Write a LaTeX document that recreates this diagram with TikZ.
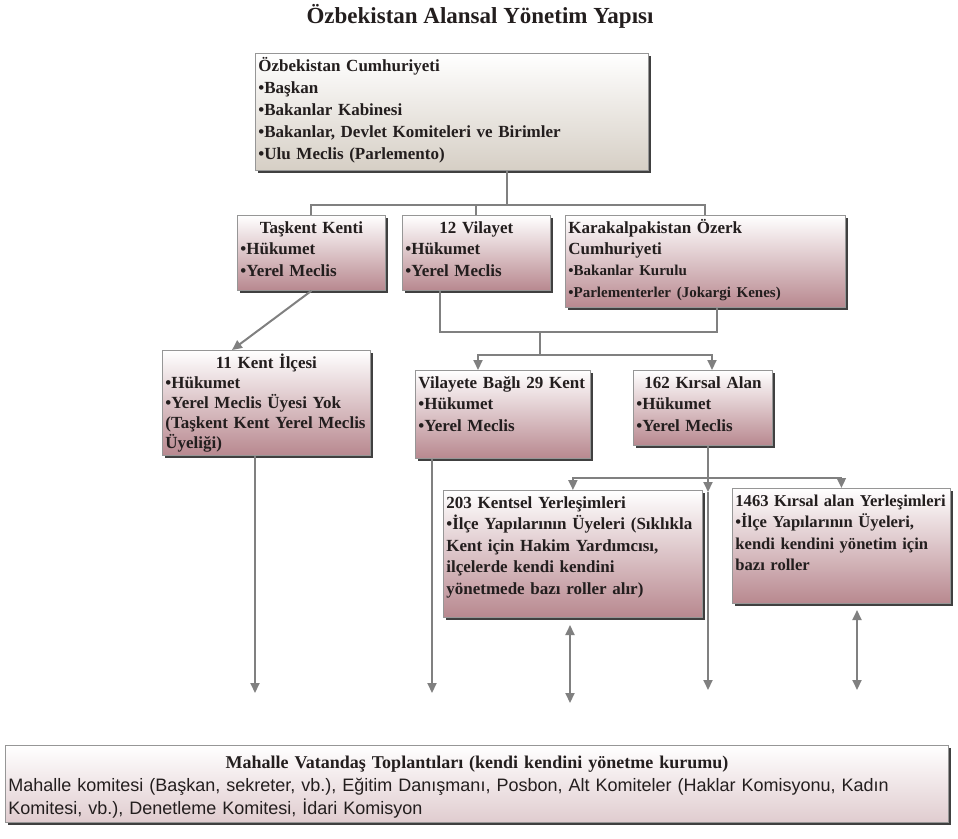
\documentclass[tikz,border=0pt]{standalone}
\usepackage{fontspec}
\setmainfont{Liberation Serif}
\newfontfamily\bodysans{Liberation Sans}
\usetikzlibrary{arrows.meta,shadows}

\definecolor{rosebot}{RGB}{184,136,143}
\definecolor{beigebot}{RGB}{214,207,197}
\definecolor{palerose}{RGB}{224,204,207}
\definecolor{boxline}{RGB}{150,150,150}
\definecolor{linkgray}{RGB}{128,128,128}
\definecolor{inkdark}{RGB}{35,30,30}

\newcommand\boxhead[1]{\makebox[\linewidth]{#1}}

\tikzset{
  orgbox/.style={draw=boxline, line width=0.8pt, anchor=north west, align=left,
    top color=white, bottom color=rosebot, inner xsep=3pt, inner ysep=4pt,
    text height=14pt, text=inkdark, font=\fontsize{17}{21.5}\selectfont\bfseries,
    drop shadow={shadow xshift=3pt, shadow yshift=-3pt, fill=black!75, opacity=1}},
  tie/.style={draw=linkgray, line width=2pt},
  arr/.style={tie, -{Triangle[width=9pt,length=10pt]}},
  dblarr/.style={tie, {Triangle[width=9pt,length=10pt]}-{Triangle[width=9pt,length=10pt]}}
}

\begin{document}
\begin{tikzpicture}[x=1pt,y=-1pt]
  \useasboundingbox (0,0) rectangle (958,838);

  \node[text=inkdark, font=\fontsize{23}{26}\selectfont\bfseries] (title) at (480,16)
    {Özbekistan Alansal Yönetim Yapısı};

  % level 1
  \node[orgbox, bottom color=beigebot, text width=387pt, text depth=95pt,
    font=\fontsize{17}{22}\selectfont\bfseries] (top) at (255,53)
    {Özbekistan Cumhuriyeti\\ •Başkan\\ •Bakanlar Kabinesi\\
     •Bakanlar, Devlet Komiteleri ve Birimler\\ •Ulu Meclis (Parlemento)};

  % level 2
  \node[orgbox, text width=142pt, text depth=53pt] (taskent) at (237,215)
    {\boxhead{Taşkent Kenti}\\ •Hükumet\\ •Yerel Meclis};
  \node[orgbox, text width=142pt, text depth=53pt] (vilayet) at (402,215)
    {\boxhead{12 Vilayet}\\ •Hükumet\\ •Yerel Meclis};
  \node[orgbox, text width=274pt, text depth=70pt] (karakalpak) at (565,215)
    {Karakalpakistan Özerk\\ Cumhuriyeti\\
     {\fontsize{15}{21}\selectfont •Bakanlar Kurulu\\ •Parlementerler (Jokargi Kenes)}};

  % level 3
  \node[orgbox, text width=202pt, text depth=83pt,
    font=\fontsize{17}{20}\selectfont\bfseries] (kent11) at (162,350)
    {\boxhead{11 Kent İlçesi}\\ •Hükumet\\ •Yerel Meclis Üyesi Yok\\
     (Taşkent Kent Yerel Meclis\\ Üyeliği)};
  \node[orgbox, text width=169pt, text depth=66pt] (kent29) at (415,370)
    {Vilayete Bağlı 29 Kent\\ •Hükumet\\ •Yerel Meclis};
  \node[orgbox, text width=133pt, text depth=53pt] (kirsal) at (633,370)
    {\boxhead{162 Kırsal Alan}\\ •Hükumet\\ •Yerel Meclis};

  % level 4
  \node[orgbox, text width=253pt, text depth=105pt] (kentsel) at (443,490)
    {203 Kentsel Yerleşimleri\\ •İlçe Yapılarının Üyeleri (Sıklıkla\\
     Kent için Hakim Yardımcısı,\\ ilçelerde kendi kendini\\
     yönetmede bazı roller alır)};
  \node[orgbox, text width=212pt, text depth=93pt,
    font=\fontsize{16.6}{21.5}\selectfont\bfseries] (kirsalyer) at (732,488)
    {1463 Kırsal alan Yerleşimleri\\ •İlçe Yapılarının Üyeleri,\\
     kendi kendini yönetim için\\ bazı roller};

  % mahalle
  \node[orgbox, bottom color=palerose, text width=937pt, text height=19pt, text depth=50pt,
    font=\fontsize{18}{23}\selectfont\bfseries] (mahalle) at (5,745)
    {\boxhead{Mahalle Vatandaş Toplantıları (kendi kendini yönetme kurumu)}\\
     {\bodysans\mdseries\fontsize{18}{23}\selectfont Mahalle komitesi (Başkan, sekreter, vb.), Eğitim Danışmanı, Posbon, Alt Komiteler (Haklar Komisyonu, Kadın\\
     Komitesi, vb.), Denetleme Komitesi, İdari Komisyon}};

  \coordinate (hub1) at (507,205);
  \coordinate (hub2) at (540,332);
  \coordinate (hub3) at (540,355);
  \coordinate (hub4) at (708,478);
  \coordinate (mid3) at (708,492);
  \coordinate (end1) at (255,693);
  \coordinate (end2) at (432,693);
  \coordinate (end3) at (708,690);
  \coordinate (dbl1a) at (570,625);
  \coordinate (dbl1b) at (570,703);
  \coordinate (dbl2a) at (857,610);
  \coordinate (dbl2b) at (857,690);

  \draw[tie] (hub1 |- top.south) -- (hub1);
  \draw[tie] (taskent.north) -- ++(0,-10) -| (karakalpak.north);
  \draw[tie] (vilayet.north) -- ++(0,-10);

  \draw[arr] (taskent.south) -- ([xshift=70pt]kent11.north west);
  \draw[tie] ([xshift=38pt]vilayet.south west) |- (hub2) -| ([xshift=152pt]karakalpak.south west);
  \draw[tie] (hub2) -- (hub3);
  \draw[arr] (hub3) -| ([xshift=63pt]kent29.north west);
  \draw[arr] (hub3) -| ([xshift=79pt]kirsal.north west);

  \draw[tie] (hub4 |- kirsal.south) -- (hub4);
  \draw[arr] (hub4) -| (kentsel.north);
  \draw[arr] (hub4) -| (kirsalyer.north);
  \draw[arr] (hub4) -- (mid3);
  \draw[arr] (mid3) -- (end3);

  \draw[arr] (end1 |- kent11.south) -- (end1);
  \draw[arr] (end2 |- kent29.south) -- (end2);
  \draw[dblarr] (dbl1a) -- (dbl1b);
  \draw[dblarr] (dbl2a) -- (dbl2b);
\end{tikzpicture}
\end{document}
